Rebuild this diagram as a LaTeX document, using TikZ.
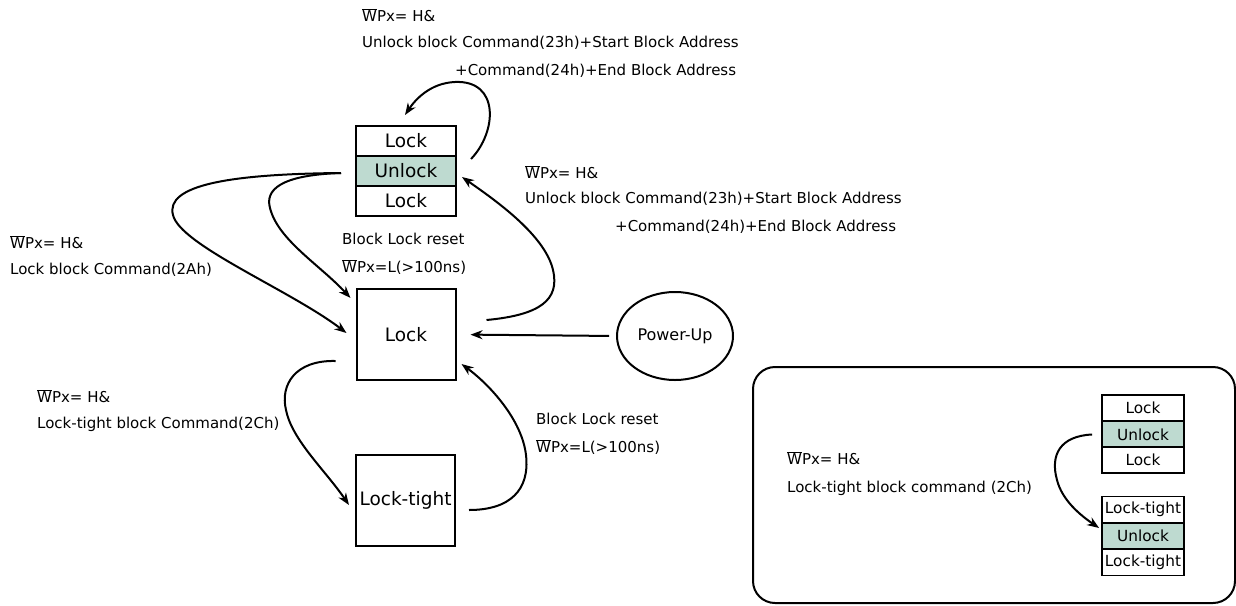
\documentclass[tikz,border=0pt]{standalone}
\usepackage{fontspec}
\setmainfont{DejaVu Sans}
\usetikzlibrary{positioning,shapes.geometric,arrows.meta}
\definecolor{unlockfill}{RGB}{190,218,208}
\def\wbar{$\overline{\mbox{W}}$}

\begin{document}
\begin{tikzpicture}[x=1pt,y=-1pt,
                      every node/.style = {inner sep=0pt},
                      cell/.style = {draw, line width=2pt, minimum width=100pt,
                        minimum height=30pt, font=\fontsize{18.5}{18.5}\selectfont},
                      small cell/.style = {cell, line width=1.8pt, minimum width=82pt,
                        minimum height=26pt, font=\fontsize{15.3}{15.3}\selectfont},
                      state/.style = {draw, line width=2pt, minimum width=99pt,
                        minimum height=91pt, font=\fontsize{18.5}{18.5}\selectfont},
                      lbl/.style = {anchor=west, font=\fontsize{15}{15}\selectfont},
                      arr/.style = {line width=2pt, -{Stealth[length=12pt,width=9pt]}}]
  \useasboundingbox (0,0) rectangle (1236,605);

  % block stack at the top
  \node[cell] (ulock) at (406,141) {Lock};
  \node[cell, fill=unlockfill] (uunlock) at (406,171) {Unlock};
  \node[cell] (ulock2) at (406,201) {Lock};

  % states
  \node[state] (lock) at (406,334.5) {Lock};
  \node[state] (tight) at (405.5,500.5) {Lock-tight};
  \node[ellipse, draw, line width=2pt, minimum width=116pt, minimum height=88pt,
        font=\fontsize{16}{16}\selectfont] (power) at (675,336) {Power-Up};

  % labels
  \node[lbl] (t1) at (362,15) {\wbar Px= H\&};
  \node[lbl] (t2) at (362,43) {Unlock block Command(23h)+Start Block Address};
  \node[lbl] (t3) at (455,71) {+Command(24h)+End Block Address};
  \node[lbl] (r1) at (525,172) {\wbar Px= H\&};
  \node[lbl] (r2) at (525,199) {Unlock block Command(23h)+Start Block Address};
  \node[lbl] (r3) at (615,227) {+Command(24h)+End Block Address};
  \node[lbl] (l1) at (10,242) {\wbar Px= H\&};
  \node[lbl] (l2) at (10,270) {Lock block Command(2Ah)};
  \node[lbl] (c1) at (342,239) {Block Lock reset};
  \node[lbl] (c2) at (342,267) {\wbar Px=L(>100ns)};
  \node[lbl] (b1) at (37,396) {\wbar Px= H\&};
  \node[lbl] (b2) at (37,424) {Lock-tight block Command(2Ch)};
  \node[lbl] (d1) at (536,419) {Block Lock reset};
  \node[lbl] (d2) at (536,447) {\wbar Px=L(>100ns)};

  % transitions
  \draw[arr] ([xshift=14pt,yshift=-4pt]uunlock.north east)
    .. controls (497,132) and (500,80) .. (455,82)
    .. controls (430,83) and (415,100) .. ([xshift=-1pt,yshift=10pt]ulock.north);
  \draw[arr] ([xshift=-14pt,yshift=-2pt]uunlock.west)
    .. controls (230,174) and (165,185) .. (173,215)
    .. controls (180,245) and (290,290) .. ([xshift=-9pt,yshift=1.5pt]lock.west);
  \draw[arr] ([xshift=-14pt,yshift=-2pt]uunlock.west)
    .. controls (280,175) and (265,190) .. (270,208)
    .. controls (278,240) and (320,265) .. ([xshift=-5pt,yshift=-10pt]lock.north west);
  \draw[arr] ([xshift=-20pt,yshift=20pt]lock.south west)
    .. controls (295,360) and (280,385) .. (286,410)
    .. controls (292,440) and (325,470) .. ([xshift=-6pt,yshift=-4.5pt]tight.west);
  \draw[arr] ([xshift=13pt,yshift=-9.5pt]tight.east)
    .. controls (510,510) and (530,490) .. (526,455)
    .. controls (522,420) and (490,385) .. ([xshift=5pt,yshift=17pt]lock.south east);
  \draw[arr] ([xshift=30pt,yshift=14.5pt]lock.east)
    .. controls (540,315) and (560,300) .. (553,270)
    .. controls (545,235) and (495,200) .. ([xshift=5pt,yshift=-6pt]uunlock.east);
  \draw[arr, shorten <=7pt, shorten >=14pt] (power.west) -- (lock.east);

  % inset: lock-tight example
  \draw[line width=2pt, rounded corners=22pt] (753,367) rectangle (1235,603);
  \node[small cell] (ilock) at (1143,408) {Lock};
  \node[small cell, fill=unlockfill] (iunlock) at (1143,434.5) {Unlock};
  \node[small cell] (ilock2) at (1143,460) {Lock};
  \node[small cell] (itight) at (1143,509.5) {Lock-tight};
  \node[small cell, fill=unlockfill] (iunlock2) at (1143,536) {Unlock};
  \node[small cell] (itight2) at (1143,562.5) {Lock-tight};
  \node[lbl] (i1) at (787,458) {\wbar Px= H\&};
  \node[lbl] (i2) at (787,488) {Lock-tight block command (2Ch)};
  \draw[arr] ([xshift=-9pt]iunlock.west)
    .. controls (1060,436) and (1050,455) .. (1057,480)
    .. controls (1062,500) and (1080,515) .. ([xshift=-2pt,yshift=8pt]iunlock2.west);
\end{tikzpicture}
\end{document}
